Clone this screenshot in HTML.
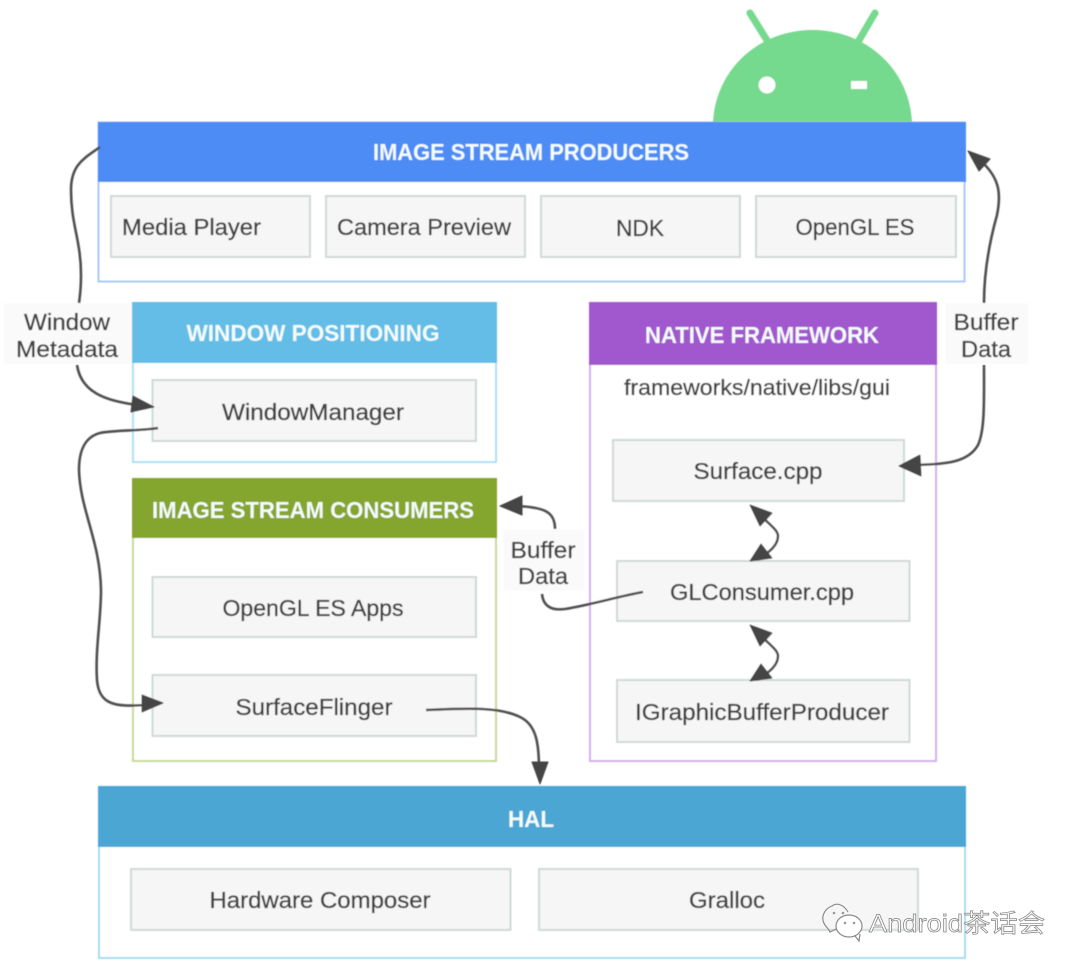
<!DOCTYPE html>
<html><head><meta charset="utf-8"><style>
html,body{margin:0;padding:0;background:#fff;width:1080px;height:970px;overflow:hidden}
svg{display:block}
text{font-family:"Liberation Sans","Noto Sans CJK SC",sans-serif}
.h{fill:#f4fbfb;font-size:23px;font-weight:bold;text-anchor:middle}
.n{fill:#424242;stroke:#424242;stroke-width:0.35;font-size:23.5px;text-anchor:middle}
.l{fill:#424242;stroke:#424242;stroke-width:0.35;font-size:23.5px}
.b{fill:#f6f6f6;stroke:#d0d8d7;stroke-width:2}
.a{fill:none;stroke:#505050;stroke-width:2.6}
.t{fill:#444;stroke:#444;stroke-width:1;stroke-linejoin:round}
</style></head><body>
<svg width="1080" height="970" viewBox="0 0 1080 970" xmlns="http://www.w3.org/2000/svg">
<defs><filter id="s" x="-2%" y="-2%" width="104%" height="104%"><feGaussianBlur stdDeviation="0.6"/></filter></defs>
<g filter="url(#s)">
<!-- Android -->
<path d="M713 122C716 68 760 30 812.500 30C865 30 909 68 912 122Z" fill="#75d98e"/>
<path d="M750 13L768 42M875 13L858 42" stroke="#75d98e" stroke-width="7" stroke-linecap="round"/>
<circle cx="767" cy="85" r="8.500" fill="#fff"/>
<rect x="851" y="81" width="16" height="8" fill="#fff"/>

<!-- Producers -->
<rect x="98.500" y="122.500" width="866" height="159" fill="#fff" stroke="#a8c8fb" stroke-width="2"/>
<rect x="98" y="122" width="868" height="60" fill="#4e8cf5"/>
<text class="h" x="531" y="160" textLength="316" lengthAdjust="spacingAndGlyphs">IMAGE STREAM PRODUCERS</text>
<rect class="b" x="111" y="196" width="199" height="61"/>
<rect class="b" x="326" y="196" width="199" height="61"/>
<rect class="b" x="541" y="196" width="199" height="61"/>
<rect class="b" x="756" y="196" width="200" height="61"/>
<text class="l" x="122" y="235" textLength="139" lengthAdjust="spacingAndGlyphs">Media Player</text>
<text class="l" x="337" y="235" textLength="174" lengthAdjust="spacingAndGlyphs">Camera Preview</text>
<text class="n" x="640" y="236" textLength="48" lengthAdjust="spacingAndGlyphs">NDK</text>
<text class="n" x="855" y="235" textLength="119" lengthAdjust="spacingAndGlyphs">OpenGL ES</text>

<!-- Labels bg -->
<rect x="4" y="303" width="128" height="61" fill="#fafafa"/>
<rect x="945" y="303" width="83" height="61" fill="#fafafa"/>
<rect x="503" y="529" width="82" height="62" fill="#fafafa"/>

<!-- Window positioning -->
<rect x="133" y="303" width="363" height="159" fill="#fff" stroke="#aee0f4" stroke-width="2"/>
<rect x="132" y="302" width="365" height="61" fill="#63bde6"/>
<text class="h" x="313" y="341" textLength="253" lengthAdjust="spacingAndGlyphs">WINDOW POSITIONING</text>
<rect class="b" x="152.500" y="380" width="323.500" height="61"/>
<text class="n" x="313" y="420" textLength="182" lengthAdjust="spacingAndGlyphs">WindowManager</text>

<!-- Consumers -->
<rect x="133" y="479" width="363" height="282" fill="#fff" stroke="#c5d995" stroke-width="2"/>
<rect x="132" y="478" width="365" height="60" fill="#84a52f"/>
<text class="h" x="313" y="518" textLength="322" lengthAdjust="spacingAndGlyphs">IMAGE STREAM CONSUMERS</text>
<rect class="b" x="152.500" y="577" width="323.500" height="60"/>
<text class="n" x="313" y="616" textLength="181" lengthAdjust="spacingAndGlyphs">OpenGL ES Apps</text>
<rect class="b" x="152.500" y="675" width="323.500" height="61"/>
<text class="n" x="314" y="715" textLength="157" lengthAdjust="spacingAndGlyphs">SurfaceFlinger</text>

<!-- Native -->
<rect x="590" y="303" width="346" height="458" fill="#fff" stroke="#d5aeee" stroke-width="2"/>
<rect x="589" y="302" width="348" height="63" fill="#a158ce"/>
<text class="h" x="762" y="343" textLength="234" lengthAdjust="spacingAndGlyphs">NATIVE FRAMEWORK</text>
<text class="n" x="757" y="395" textLength="266" lengthAdjust="spacingAndGlyphs" style="font-size:22.500px">frameworks/native/libs/gui</text>
<rect class="b" x="613" y="440" width="291" height="61"/>
<text class="n" x="758" y="479" textLength="129" lengthAdjust="spacingAndGlyphs">Surface.cpp</text>
<rect class="b" x="617" y="561" width="292.500" height="60"/>
<text class="n" x="762" y="600" textLength="184" lengthAdjust="spacingAndGlyphs">GLConsumer.cpp</text>
<rect class="b" x="617" y="680" width="292.500" height="62"/>
<text class="n" x="762" y="720" textLength="254" lengthAdjust="spacingAndGlyphs">IGraphicBufferProducer</text>

<!-- HAL -->
<rect x="99" y="787" width="866" height="171" fill="#fff" stroke="#a6dcf2" stroke-width="2"/>
<rect x="98" y="786" width="868" height="61" fill="#4ba6d3"/>
<text class="h" x="531" y="827" textLength="46" lengthAdjust="spacingAndGlyphs">HAL</text>
<rect class="b" x="131" y="869" width="379.500" height="61"/>
<text class="n" x="320" y="908" textLength="221" lengthAdjust="spacingAndGlyphs">Hardware Composer</text>
<rect class="b" x="539" y="869" width="379" height="61"/>
<text class="n" x="727" y="908" textLength="76" lengthAdjust="spacingAndGlyphs">Gralloc</text>

<!-- Label text -->
<text class="n" x="67" y="330" textLength="86" lengthAdjust="spacingAndGlyphs">Window</text>
<text class="n" x="67" y="357" textLength="102" lengthAdjust="spacingAndGlyphs">Metadata</text>
<text class="n" x="986" y="330" textLength="65" lengthAdjust="spacingAndGlyphs">Buffer</text>
<text class="n" x="986" y="357" textLength="50" lengthAdjust="spacingAndGlyphs">Data</text>
<text class="n" x="543" y="558" textLength="65" lengthAdjust="spacingAndGlyphs">Buffer</text>
<text class="n" x="543" y="584" textLength="50" lengthAdjust="spacingAndGlyphs">Data</text>

<!-- Connectors -->
<path class="a" d="M100 147C85 158 71 164 71 190C71 225 81 240 81 275C81 290 80 295 79 303"/>
<path class="a" d="M77 365C81 392 105 401 138 405"/>
<path class="t" d="M154 407L133 396L131 412Z"/>
<path class="a" d="M158 428C140 431 115 430 100 433C85 437 79 450 79 470C80 510 100 540 101 590C101 620 95 650 97 680C99 705 115 707 145 705"/>
<path class="t" d="M163 703L142 695L142 712Z"/>
<path class="a" d="M426 710C470 708 500 707 520 717C537 725 539 745 539 770"/>
<path class="t" d="M540 784L532 762L548 762Z"/>
<path class="a" d="M984 303C984 270 990 240 997 215C1001 195 1000 180 984 164"/>
<path class="t" d="M968 151L990 159L979 171Z"/>
<path class="a" d="M984 365C984 400 985 430 978 445C968 463 945 464 915 465"/>
<path class="t" d="M899 466L920 455L921 476Z"/>
<path class="a" d="M643 592C620 596 590 605 565 609C550 611 543 605 542 594"/>
<path class="a" d="M555 529C555 512 545 507 515 506"/>
<path class="t" d="M500 506L522 496L522 515Z"/>
<path class="a" d="M757 512C770 525 778 530 778 536C778 545 770 552 757 560"/>
<path class="t" d="M750 505L772 513L760 526Z"/>
<path class="t" d="M750 561L772 558L761 544Z"/>
<path class="a" d="M757 632C770 645 778 650 778 656C778 665 770 672 757 680"/>
<path class="t" d="M750 625L772 633L760 646Z"/>
<path class="t" d="M750 681L772 678L761 664Z"/>
</g>

<!-- Watermark -->
<g fill="none" stroke="#8b8b8b" stroke-width="1.200">
<path d="M848 912C844 905 837 902 832 906C824 909 820 918 825 925C827 928 829 929 830 932L836 929"/>
<ellipse cx="849" cy="926" rx="13" ry="11" fill="#fff"/>
<path d="M855 936L859 941L860 934"/>
</g>
<circle cx="834" cy="913" r="1.300" fill="#999"/><circle cx="843" cy="913" r="1.300" fill="#999"/>
<circle cx="845" cy="923" r="1.300" fill="#999"/><circle cx="854" cy="923" r="1.300" fill="#999"/>
<text x="869" y="932" font-size="25" fill="#fff" stroke="#808080" stroke-width="0.700" textLength="176" lengthAdjust="spacingAndGlyphs">Android茶话会</text>
</svg>
</body></html>
